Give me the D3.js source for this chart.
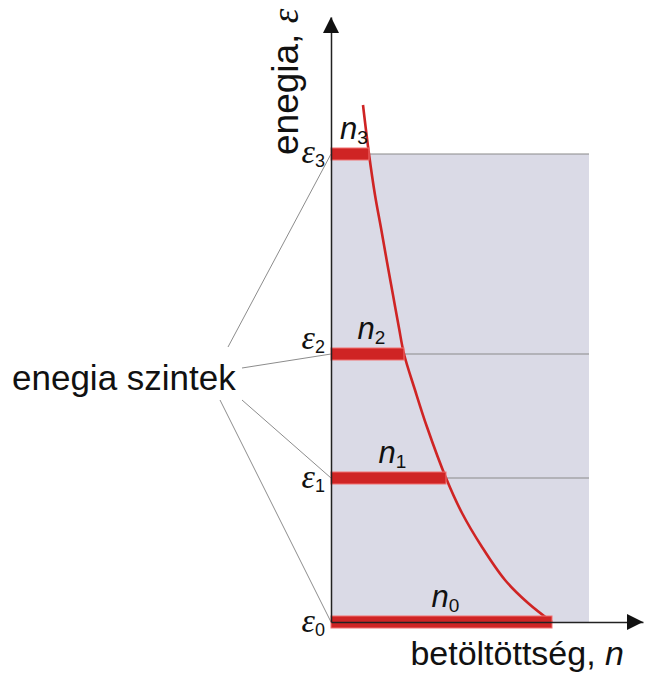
<!DOCTYPE html>
<html>
<head>
<meta charset="utf-8">
<script src="https://cdn.jsdelivr.net/npm/d3@7"></script>
<style>
  html, body { margin: 0; padding: 0; background: #fff; }
  svg { display: block; }
  text { font-family: "Liberation Sans", Arial, sans-serif; fill: #111; }
</style>
</head>
<body>
<svg id="chart"></svg>
<script>
// energy levels (arbitrary units) and their occupation
const levelIndex = ["0", "1", "2", "3"];
const levelEnergy = [0, 1.44, 2.68, 4.68];
const levelPopulation = [2.21, 1.15, 0.73, 0.38];

// distribution curve (energy, occupation)
const curveEnergy = [0, 0.19, 0.42, 0.75, 1.09, 1.44, 1.95, 2.32, 2.68, 2.94, 3.27, 3.60, 3.94, 4.27, 4.68, 5.17];
const curvePopulation = [2.21, 1.97, 1.74, 1.51, 1.31, 1.15, 0.96, 0.84, 0.73, 0.68, 0.62, 0.56, 0.50, 0.44, 0.38, 0.32];

const shadeMaxN = 2.58;
const axisMaxN = 3.12;
const axisMaxE = 6.05;

const width = 645, height = 678;
const svg = d3.select("#chart").attr("width", width).attr("height", height);

const x = d3.scaleLinear().domain([0, axisMaxN]).range([331, 643]);
const y = d3.scaleLinear().domain([0, axisMaxE]).range([622, 17]);

const red = "#cf2424";
const topE = d3.max(levelEnergy);

// shaded area under top level
svg.append("rect")
  .attr("x", x(0))
  .attr("y", y(topE))
  .attr("width", x(shadeMaxN) - x(0))
  .attr("height", y(0) - y(topE))
  .attr("fill", "#dadae6");

// grey level lines
svg.selectAll(".level-line")
  .data(levelEnergy.filter((e) => e > 0))
  .join("line")
  .classed("level-line", true)
  .attr("x1", x(0))
  .attr("x2", x(shadeMaxN))
  .attr("y1", (d) => y(d))
  .attr("y2", (d) => y(d))
  .attr("stroke", "#8a8a8a")
  .attr("stroke-width", 1.2);

// "enegia szintek" label with leader lines
const lab = { x: 12, y: 390 };
svg.append("text")
  .attr("x", lab.x)
  .attr("y", lab.y)
  .style("font-size", "35px")
  .text("enegia szintek");

const leaderStart = [[208, 10], [230, 10], [230, -22], [216, -43]];
svg.selectAll(".leader")
  .data(levelEnergy)
  .join("line")
  .classed("leader", true)
  .attr("x1", (d, i) => lab.x + leaderStart[i][0])
  .attr("y1", (d, i) => lab.y + leaderStart[i][1])
  .attr("x2", x(0))
  .attr("y2", (d) => y(d))
  .attr("stroke", "#8c8c8c")
  .attr("stroke-width", 1);

// distribution curve
const pts = curveEnergy.map((e, i) => [curvePopulation[i], e]);
svg.append("path")
  .datum(pts)
  .attr("d", d3.line()
    .x((d) => x(d[0]))
    .y((d) => y(d[1]))
    .curve(d3.curveCatmullRom))
  .attr("fill", "none")
  .attr("stroke", red)
  .attr("stroke-width", 2.6);

// occupation bars
svg.selectAll(".bar")
  .data(levelEnergy)
  .join("rect")
  .classed("bar", true)
  .attr("x", x(0))
  .attr("y", (d) => y(d) - 6)
  .attr("width", (d, i) => x(levelPopulation[i]) - x(0))
  .attr("height", 12)
  .attr("fill", red)
  .attr("stroke", "#f27070")
  .attr("stroke-width", 1);

// axes (no ticks, just the lines)
const axisColor = "#222";
svg.append("g")
  .attr("transform", `translate(0,${y(0)})`)
  .call(d3.axisBottom(x).tickValues([]).tickSizeOuter(0))
  .select(".domain")
  .attr("stroke", axisColor)
  .attr("stroke-width", 1.5);

svg.append("g")
  .attr("transform", `translate(${x(0)},0)`)
  .call(d3.axisLeft(y).tickValues([]).tickSizeOuter(0))
  .select(".domain")
  .attr("stroke", axisColor)
  .attr("stroke-width", 1.5);

// arrow heads
const xe = x(axisMaxN), ye = y(axisMaxE);
svg.append("path")
  .attr("d", `M${xe},${y(0)} L${xe - 16},${y(0) - 8} L${xe - 16},${y(0) + 8} Z`)
  .attr("fill", "#111");
svg.append("path")
  .attr("d", `M${x(0)},${ye} L${x(0) - 8},${ye + 16} L${x(0) + 8},${ye + 16} Z`)
  .attr("fill", "#111");

// epsilon labels
const epsOffset = [10, 10, -5, 9];
const epsLabels = svg.selectAll(".eps")
  .data(levelEnergy)
  .join("text")
  .classed("eps", true)
  .attr("x", 325)
  .attr("y", (d, i) => y(d) + epsOffset[i])
  .attr("text-anchor", "end");
epsLabels.append("tspan")
  .style("font-family", "'Liberation Serif', 'Times New Roman', serif")
  .style("font-style", "italic")
  .style("font-size", "34px")
  .text("ε");
epsLabels.append("tspan")
  .attr("dy", 4)
  .style("font-size", "18px")
  .text((d, i) => levelIndex[i]);

// n labels
const nLabels = svg.selectAll(".nlab")
  .data(levelEnergy)
  .join("text")
  .classed("nlab", true)
  .attr("x", (d, i) => (x(0) + x(levelPopulation[i])) / 2 - 10)
  .attr("y", (d) => y(d) - 15);
nLabels.append("tspan")
  .style("font-style", "italic")
  .style("font-size", "31px")
  .text("n");
nLabels.append("tspan")
  .attr("dy", 5)
  .style("font-size", "19px")
  .text((d, i) => levelIndex[i]);

// axis titles
const yTitle = svg.append("text")
  .attr("transform", "translate(298,155) rotate(-90)")
  .style("font-size", "37px");
yTitle.append("tspan").text("enegia, ");
yTitle.append("tspan")
  .style("font-family", "'Liberation Serif', 'Times New Roman', serif")
  .style("font-style", "italic")
  .text("ε");

const xTitle = svg.append("text")
  .attr("x", 624)
  .attr("y", 665)
  .attr("text-anchor", "end")
  .style("font-size", "34px");
xTitle.append("tspan").text("betöltöttség, ");
xTitle.append("tspan").style("font-style", "italic").text("n");
</script>
</body>
</html>
